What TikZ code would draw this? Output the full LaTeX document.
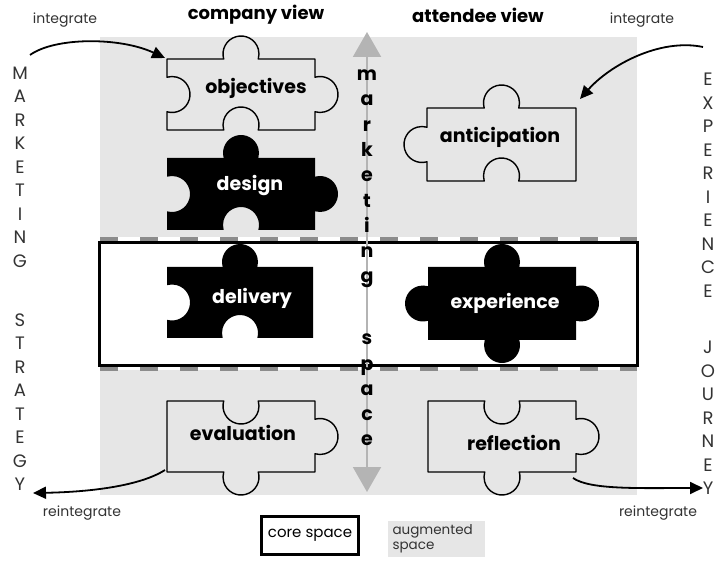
\documentclass[tikz,border=0pt]{standalone}
\usepackage{fontspec}
\setmainfont{Poppins}
\usetikzlibrary{arrows.meta}

\definecolor{augbg}{HTML}{E6E6E6}
\definecolor{dashgray}{HTML}{8C8C8C}
\definecolor{axisgray}{HTML}{B4B4B4}
\definecolor{sidetext}{HTML}{333333}

% sides of a puzzle piece: tab out, notch in, flat
\newcommand{\topout}[2]{-- ({#1-17.29},#2) arc[start angle=196.13,end angle=-16.13,radius=18]}
\newcommand{\topin}[2]{-- ({#1-17.29},#2) arc[start angle=163.87,end angle=376.13,radius=18]}
\newcommand{\rightout}[2]{-- (#1,{#2+17.29}) arc[start angle=106.13,end angle=-106.13,radius=18]}
\newcommand{\rightin}[2]{-- (#1,{#2+17.29}) arc[start angle=73.87,end angle=286.13,radius=18]}
\newcommand{\botout}[2]{-- ({#1+17.29},#2) arc[start angle=16.13,end angle=-196.13,radius=18]}
\newcommand{\botin}[2]{-- ({#1+17.29},#2) arc[start angle=-16.13,end angle=196.13,radius=18]}
\newcommand{\leftout}[2]{-- (#1,{#2-17.29}) arc[start angle=-73.87,end angle=-286.13,radius=18]}
\newcommand{\leftin}[2]{-- (#1,{#2-17.29}) arc[start angle=-106.13,end angle=106.13,radius=18]}
\newcommand{\flatside}[2]{}

% \piece{x0}{y0}{x1}{y1}{top}{right}{bottom}{left}{style}
\newcommand{\piece}[9]{%
  \pgfmathsetmacro\pmx{(#1+#3)/2}%
  \pgfmathsetmacro\pmy{(#2+#4)/2}%
  \path[#9] (#1,#2) #5{\pmx}{#2} -- (#3,#2) #6{#3}{\pmy} -- (#3,#4) #7{\pmx}{#4} -- (#1,#4) #8{#1}{\pmy} -- cycle;}

\tikzset{
  open piece/.style={draw=black, line width=1.4pt, line join=round},
  full piece/.style={fill=black},
  piece label/.style={font=\bfseries\fontsize{19}{21}\selectfont},
  full label/.style={piece label, text=white},
  view title/.style={font=\bfseries\fontsize{18}{21}\selectfont},
  side word/.style={align=center, text=sidetext, font=\fontsize{18}{23.5}\selectfont},
  axis word/.style={align=center, font=\bfseries\fontsize{19}{25.3}\selectfont},
  small note/.style={text=sidetext, font=\fontsize{14}{16}\selectfont},
  flow/.style={line width=1.8pt, -{Triangle[length=13pt,width=12pt]}},
  axis arrow/.style={axisgray, line width=2pt, {Triangle[length=25pt,width=28pt]}-{Triangle[length=25pt,width=28pt]}},
  space dash/.style={dashgray, line width=3.5pt, dash pattern=on 18pt off 22pt}
}

\begin{document}
\begin{tikzpicture}[x=1pt,y=1pt]
\useasboundingbox (0,0) rectangle (717,560);

% augmented and core space
\fill[augbg] (100,65) rectangle (637,523);
\fill[white] (98,190) rectangle (639,323);
\draw[space dash] (100,321) -- (637,321);
\draw[space dash] (100,191) -- (637,191);
\draw[line width=3pt] (99,195) rectangle (637,317);

% puzzle pieces
\piece{167}{501}{315}{430}{\topout}{\rightout}{\botin}{\leftin}{open piece}
\piece{167}{402}{315}{330}{\topout}{\rightout}{\botin}{\leftin}{full piece}
\piece{167}{293}{313}{222}{\topout}{\flatside}{\botin}{\leftin}{full piece}
\piece{167}{159}{315}{88}{\topin}{\rightout}{\botout}{\flatside}{open piece}
\piece{427}{452}{576}{379}{\topout}{\flatside}{\botin}{\leftout}{open piece}
\piece{428}{293}{576}{220}{\topout}{\rightout}{\botout}{\leftout}{full piece}
\piece{428}{159}{576}{88}{\topin}{\rightout}{\botout}{\flatside}{open piece}

\node[piece label] (objectives) at (256,472) {objectives};
\node[full label] (design) at (250,374) {design};
\node[full label] (delivery) at (252,262) {delivery};
\node[piece label] (evaluation) at (243,127) {evaluation};
\node[piece label] (anticipation) at (500,423) {anticipation};
\node[full label] (experience) at (505,257) {experience};
\node[piece label] (reflection) at (514,117) {reflection};

% marketing space axis
\coordinate (axis top) at (367,528);
\coordinate (axis bottom) at (367,68);
\draw[axis arrow] (axis bottom) -- (axis top);
\node[axis word] (axis marketing) at (367,381) {m\\a\\r\\k\\e\\t\\i\\n\\g};
\node[axis word] (axis space) at (367,170) {s\\p\\a\\c\\e};

% views
\node[view title] (company view) at (256,545) {company view};
\node[view title] (attendee view) at (478,545) {attendee view};

% side words
\node[side word] (marketing) at (20,393) {M\\A\\R\\K\\E\\T\\I\\N\\G};
\node[side word] (strategy) at (20,158) {S\\T\\R\\A\\T\\E\\G\\Y};
\node[side word] (experience word) at (708,375) {E\\X\\P\\E\\R\\I\\E\\N\\C\\E};
\node[side word] (journey) at (708,142) {J\\O\\U\\R\\N\\E\\Y};

% integrate / reintegrate
\node[small note] (integrate left) at (65,540) {integrate};
\node[small note] (integrate right) at (642,540) {integrate};
\node[small note] (reintegrate left) at (82,47) {reintegrate};
\node[small note] (reintegrate right) at (658,47) {reintegrate};

\coordinate (in left from) at (30,505);
\coordinate (in left to) at (165,502);
\coordinate (in right from) at (703,513);
\coordinate (in right to) at (580,461);
\coordinate (re left from) at (165,90);
\coordinate (re left to) at (33,67);
\coordinate (re right from) at (573,82);
\coordinate (re right to) at (703,72);
\draw[flow] (in left from) .. controls (55,523) and (120,523) .. (in left to);
\draw[flow] (in right from) .. controls (660,522) and (610,495) .. (in right to);
\draw[flow] (re left from) .. controls (140,74) and (90,68) .. (re left to);
\draw[flow] (re right from) .. controls (590,70) and (640,72) .. (re right to);

% legend
\node[draw, line width=3pt, minimum width=97pt, minimum height=38pt, font=\fontsize{15}{17}\selectfont] (core space) at (310,25) {core space};
\node[fill=augbg, minimum width=97pt, minimum height=36pt] (augmented box) at (436,21) {};
\node[align=left, anchor=west, text=sidetext, font=\fontsize{13.5}{15}\selectfont] (augmented space) at (389,21) {augmented\\space};
\end{tikzpicture}
\end{document}
